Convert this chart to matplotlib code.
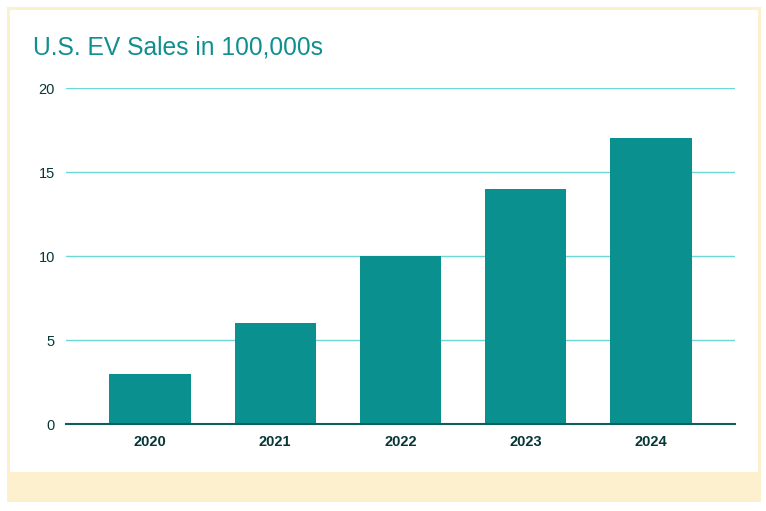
import matplotlib
matplotlib.use("Agg")
import matplotlib.pyplot as plt
from matplotlib.patches import Rectangle

years = ["2020", "2021", "2022", "2023", "2024"]
sales = [3, 6, 10, 14, 17]
yticks = [0, 5, 10, 15, 20]
title = "U.S. EV Sales in 100,000s"

plt.rcParams['font.family'] = ['Liberation Sans', 'DejaVu Sans']

W, H = 766, 511
fig = plt.figure(figsize=(W/100, H/100), dpi=100, facecolor="white")

def px_rect(x0, y0, x1, y1, color, z):
    fig.patches.append(Rectangle((x0/W, 1 - y1/H), (x1-x0)/W, (y1-y0)/H,
                                 transform=fig.transFigure, facecolor=color,
                                 edgecolor="none", zorder=z))

px_rect(7, 7, 761, 502, "#fdf0cf", -2)
px_rect(10, 10, 758, 472, "white", -1)

ax = fig.add_axes([66/W, 1 - 424/H, (735-66)/W, (424-88)/H])
ax.set_zorder(2)
ax.set_facecolor("none")
ax.bar(range(len(years)), sales, width=0.65, color="#0a918f", zorder=2)
ax.set_xlim(-0.67, 4.67)
ax.set_ylim(0, 20)
ax.set_yticks(yticks)
ax.set_yticklabels([str(v) for v in yticks])
ax.set_xticks(range(len(years)))
ax.set_xticklabels(years, fontweight="bold")
for s in ["top", "right", "left"]:
    ax.spines[s].set_visible(False)
ax.spines["bottom"].set_color("#0b5e5e")
ax.spines["bottom"].set_linewidth(1.5)
ax.spines["bottom"].set_zorder(3)
ax.grid(axis="y", color="#6dd6d6", linewidth=1.0, zorder=1)
ax.set_axisbelow(True)
ax.tick_params(axis="both", length=0, labelsize=10.5, labelcolor="#063636")
ax.tick_params(axis="y", pad=8)
ax.tick_params(axis="x", pad=8)

fig.text(33/W, 1 - 48/H, title, color="#0f8f8f", fontsize=17.7,
         ha="left", va="center")

fig.savefig("out.png", dpi=100, facecolor="white")
